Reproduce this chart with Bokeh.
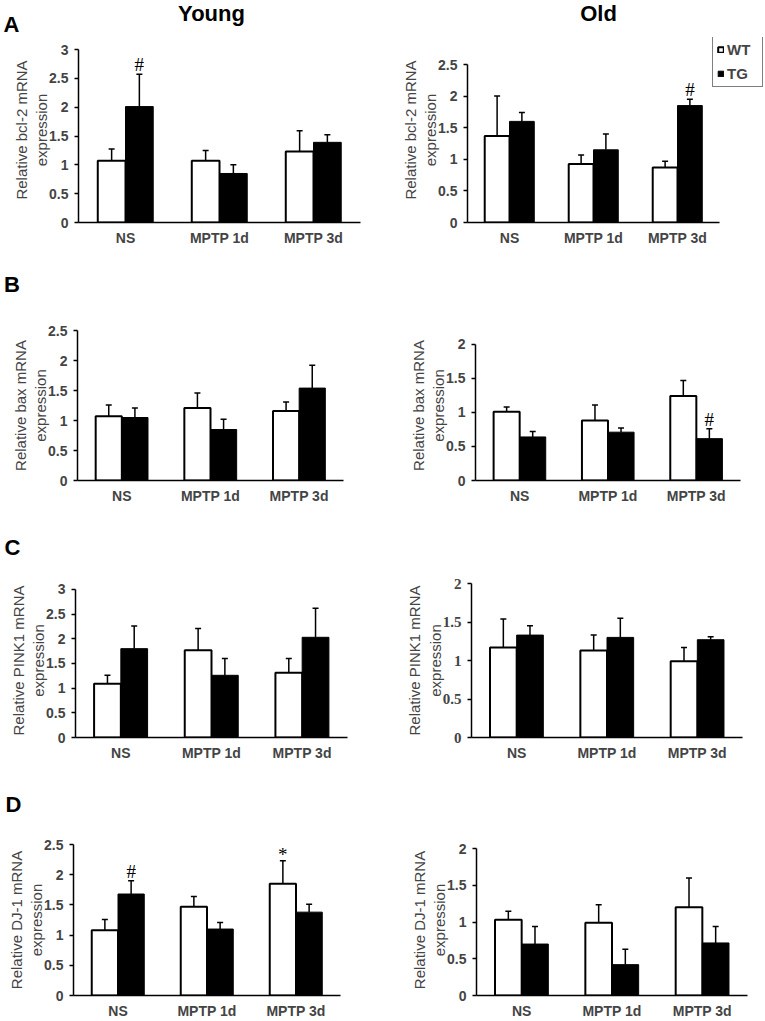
import numpy as np
from bokeh.plotting import figure
from bokeh.models import (FixedTicker, Whisker, TeeHead, ColumnDataSource, Label,
                          Legend, LegendItem, Range1d)
from bokeh.layouts import row, column
from bokeh.embed import file_html
from bokeh.resources import INLINE
from bokeh.core.properties import value

groups = ["NS", "MPTP 1d", "MPTP 3d"]
series_names = ["WT", "TG"]
col_titles = ["Young", "Old"]
panel_letters = ["A", "B", "C", "D"]

# ---- Young ----
young_bcl2_wt = [1.07, 1.07, 1.23]
young_bcl2_wt_err = [1.275, 1.25, 1.59]
young_bcl2_tg = [2.01, 0.85, 1.39]
young_bcl2_tg_err = [2.57, 1.00, 1.52]
young_bcl2_ticks = [0, 0.5, 1, 1.5, 2, 2.5, 3]

young_bax_wt = [1.07, 1.21, 1.16]
young_bax_wt_err = [1.26, 1.46, 1.31]
young_bax_tg = [1.05, 0.85, 1.54]
young_bax_tg_err = [1.21, 1.02, 1.92]
young_bax_ticks = [0, 0.5, 1, 1.5, 2, 2.5]

young_pink1_wt = [1.09, 1.77, 1.31]
young_pink1_wt_err = [1.26, 2.21, 1.60]
young_pink1_tg = [1.80, 1.26, 2.03]
young_pink1_tg_err = [2.26, 1.60, 2.62]
young_pink1_ticks = [0, 0.5, 1, 1.5, 2, 2.5, 3]

young_dj1_wt = [1.08, 1.47, 1.85]
young_dj1_wt_err = [1.26, 1.64, 2.23]
young_dj1_tg = [1.68, 1.10, 1.38]
young_dj1_tg_err = [1.90, 1.21, 1.51]
young_dj1_ticks = [0, 0.5, 1, 1.5, 2, 2.5]

# ---- Old ----
old_bcl2_wt = [1.37, 0.925, 0.87]
old_bcl2_wt_err = [2.00, 1.07, 0.97]
old_bcl2_tg = [1.60, 1.15, 1.85]
old_bcl2_tg_err = [1.74, 1.40, 1.95]
old_bcl2_ticks = [0, 0.5, 1, 1.5, 2, 2.5]

old_bax_wt = [1.01, 0.88, 1.24]
old_bax_wt_err = [1.08, 1.11, 1.47]
old_bax_tg = [0.64, 0.71, 0.615]
old_bax_tg_err = [0.72, 0.77, 0.76]
old_bax_ticks = [0, 0.5, 1, 1.5, 2]

old_pink1_wt = [1.17, 1.13, 0.99]
old_pink1_wt_err = [1.54, 1.33, 1.17]
old_pink1_tg = [1.33, 1.30, 1.27]
old_pink1_tg_err = [1.45, 1.55, 1.31]
old_pink1_ticks = [0, 0.5, 1, 1.5, 2]

old_dj1_wt = [1.03, 0.99, 1.20]
old_dj1_wt_err = [1.145, 1.235, 1.60]
old_dj1_tg = [0.70, 0.42, 0.715]
old_dj1_tg_err = [0.94, 0.63, 0.94]
old_dj1_ticks = [0, 0.5, 1, 1.5, 2]

# significance marks: (series, group index, symbol)
young_bcl2_marks = [("TG", 0, "#")]
old_bcl2_marks = [("TG", 2, "#")]
old_bax_marks = [("TG", 2, "#")]
young_dj1_marks = [("TG", 0, "#"), ("WT", 2, "*")]

ylabels = ["Relative bcl-2 mRNA\nexpression", "Relative bax mRNA\nexpression",
           "Relative PINK1 mRNA\nexpression", "Relative DJ-1 mRNA\nexpression"]

SANS = "Liberation Sans"
SERIF = "Liberation Serif"
BW = 0.295
LEFT_W, RIGHT_W = 380, 385
HDR_H = 37
ROW_H = [250, 256, 257, 258]
BASE_SHIFT = 8  # observed downward shift of alphabetic baseline for 22px text


def make_panel(wt, wt_err, tg, tg_err, ticks, ylabel, w, h, left, right_vis, top_vis,
               bottom, top_frame, right_frame=None, marks=(), tick_font=SANS,
               tick_size="14px"):
    """The axes box (visible axis lines) spans left..w-right_vis, top_vis..h-bottom.
    The frame itself may be taller/wider (top_frame, right_frame); the axes keep
    their bounds so only the drawing area grows."""
    if right_frame is None:
        right_frame = right_vis
    ymax = max(ticks)
    x0, x1 = -0.5, 2.5
    x1 = x0 + (x1 - x0) * (w - left - right_frame) / (w - left - right_vis)
    y1 = ymax * (h - top_frame - bottom) / (h - top_vis - bottom)
    p = figure(width=w, height=h, x_range=Range1d(x0, x1),
               y_range=Range1d(0, y1), output_backend="svg",
               toolbar_location=None, min_border_left=left, min_border_right=right_frame,
               min_border_top=top_frame, min_border_bottom=bottom)
    p.outline_line_color = None
    p.xgrid.visible = False
    p.ygrid.visible = False
    p.background_fill_color = "white"
    p.border_fill_color = "white"

    x = np.arange(len(groups))
    src = ColumnDataSource(dict(xw=x - BW / 2, xt=x + BW / 2, wt=wt, tg=tg,
                                wte=wt_err, tge=tg_err))
    r_wt = p.vbar(x="xw", top="wt", bottom=0, width=BW, source=src,
                  fill_color="white", line_color="black", line_width=2)
    r_tg = p.vbar(x="xt", top="tg", bottom=0, width=BW, source=src,
                  fill_color="black", line_color="black", line_width=1)
    for base, lo, hi in (("xw", "wt", "wte"), ("xt", "tg", "tge")):
        p.add_layout(Whisker(source=src, base=base, lower=lo, upper=hi,
                             dimension="height", lower_head=None,
                             upper_head=TeeHead(size=6, line_width=1.5, line_color="black"),
                             line_width=1.5, line_color="black", level="annotation"))

    for ser, gi, sym in marks:
        xs = gi - BW / 2 if ser == "WT" else gi + BW / 2
        ys = (wt_err if ser == "WT" else tg_err)[gi]
        off = -9.5 if sym == "#" else -6.5
        p.text(x=[xs], y=[ys], text=[sym], text_font=value(SERIF),
               text_font_size="19px", text_align="center",
               text_baseline="alphabetic", y_offset=off, text_color="black")

    ya = p.yaxis[0]
    ya.ticker = FixedTicker(ticks=ticks)
    ya.major_label_overrides = {float(t): f"{t:g}" for t in ticks}
    ya.bounds = (0, ymax)
    ya.minor_tick_line_color = None
    ya.major_tick_in = 0
    ya.major_tick_out = 4
    ya.axis_line_width = 1.5
    ya.major_tick_line_width = 1.5
    ya.major_label_text_font = tick_font
    ya.major_label_text_font_style = "bold"
    ya.major_label_text_font_size = tick_size
    ya.major_label_standoff = 6
    ya.axis_label = ylabel
    ya.axis_label_text_font = SANS
    ya.axis_label_text_font_style = "normal"
    ya.axis_label_text_font_size = "15px"
    ya.axis_label_standoff = -4

    xa = p.xaxis[0]
    xa.ticker = FixedTicker(ticks=list(range(len(groups))))
    xa.major_label_overrides = {i: g for i, g in enumerate(groups)}
    xa.bounds = (-0.5, 2.5)
    xa.minor_tick_line_color = None
    xa.major_tick_in = 0
    xa.major_tick_out = 0
    xa.axis_line_width = 1.5
    xa.major_label_text_font = SANS
    xa.major_label_text_font_style = "bold"
    xa.major_label_text_font_size = "14px"
    xa.major_label_standoff = 7
    return p, r_wt, r_tg


def add_letter(p, x, baseline, text):
    p.add_layout(Label(x=x, y=baseline - BASE_SHIFT, x_units="canvas", y_units="canvas",
                       text=text, text_font=SANS, text_font_style="bold",
                       text_font_size="22px", text_align="left",
                       text_baseline="alphabetic", text_color="black"), "above")


# full-width header strip: column titles and first panel letter
W = LEFT_W + RIGHT_W
header = figure(width=W, height=HDR_H, x_range=Range1d(0, W), y_range=Range1d(0, HDR_H),
                x_axis_type=None, y_axis_type=None, output_backend="svg",
                toolbar_location=None, min_border=0)
header.outline_line_color = None
header.xgrid.visible = False
header.ygrid.visible = False
hdr_x = [211, 598, 3]
hdr_base = [21, 21, 32]
hdr_align = ["center", "center", "left"]
for hx, hb, ht, ha in zip(hdr_x, hdr_base, col_titles + [panel_letters[0]], hdr_align):
    header.text(x=[hx], y=[HDR_H - (hb - BASE_SHIFT)], text=[ht], text_font=value(SANS),
                text_font_style="bold", text_font_size="22px", text_align=ha,
                text_baseline="alphabetic", text_color="black")

hA = ROW_H[0] - HDR_H
ya_p, _, _ = make_panel(young_bcl2_wt, young_bcl2_wt_err, young_bcl2_tg, young_bcl2_tg_err,
                        young_bcl2_ticks, ylabels[0], LEFT_W, hA, 78, 20, 12, 28, 0,
                        marks=young_bcl2_marks)
oa_p, oa_wt, oa_tg = make_panel(old_bcl2_wt, old_bcl2_wt_err, old_bcl2_tg, old_bcl2_tg_err,
                                old_bcl2_ticks, ylabels[0], RIGHT_W, hA, 87, 46, 27, 28, 0,
                                right_frame=0, marks=old_bcl2_marks)
yb_p, _, _ = make_panel(young_bax_wt, young_bax_wt_err, young_bax_tg, young_bax_tg_err,
                        young_bax_ticks, ylabels[1], LEFT_W, ROW_H[1], 77, 37, 80, 25, 80)
ob_p, _, _ = make_panel(old_bax_wt, old_bax_wt_err, old_bax_tg, old_bax_tg_err,
                        old_bax_ticks, ylabels[1], RIGHT_W, ROW_H[1], 95, 25, 94, 25, 80,
                        marks=old_bax_marks)
yc_p, _, _ = make_panel(young_pink1_wt, young_pink1_wt_err, young_pink1_tg, young_pink1_tg_err,
                        young_pink1_ticks, ylabels[2], LEFT_W, ROW_H[2], 75, 33, 83, 24, 77)
oc_p, _, _ = make_panel(old_pink1_wt, old_pink1_wt_err, old_pink1_tg, old_pink1_tg_err,
                        old_pink1_ticks, ylabels[2], RIGHT_W, ROW_H[2], 91, 23, 77, 24, 77,
                        tick_font=SERIF, tick_size="15px")
yd_p, _, _ = make_panel(young_dj1_wt, young_dj1_wt_err, young_dj1_tg, young_dj1_tg_err,
                        young_dj1_ticks, ylabels[3], LEFT_W, ROW_H[3], 73, 40, 81, 26, 81,
                        marks=young_dj1_marks)
od_p, _, _ = make_panel(old_dj1_wt, old_dj1_wt_err, old_dj1_tg, old_dj1_tg_err,
                        old_dj1_ticks, ylabels[3], RIGHT_W, ROW_H[3], 96, 18, 85, 26, 81)

add_letter(yb_p, 3.5, 41.7, panel_letters[1])
add_letter(yc_p, 4, 48.5, panel_letters[2])
add_letter(yd_p, 5, 48.7, panel_letters[3])

legend = Legend(items=[LegendItem(label=series_names[0], renderers=[oa_wt]),
                       LegendItem(label=series_names[1], renderers=[oa_tg])],
                location=(245, 135), margin=0, padding=4, spacing=6,
                glyph_width=7, glyph_height=7, label_standoff=3,
                label_height=18, label_width=31,
                label_text_font=SANS, label_text_font_style="bold",
                label_text_font_size="15px",
                border_line_color="black", border_line_width=1.5,
                background_fill_color="white", background_fill_alpha=1)
oa_p.add_layout(legend)

layout = column(header, row(ya_p, oa_p), row(yb_p, ob_p), row(yc_p, oc_p), row(yd_p, od_p))

open("out.html", "w").write(file_html(layout, INLINE))
